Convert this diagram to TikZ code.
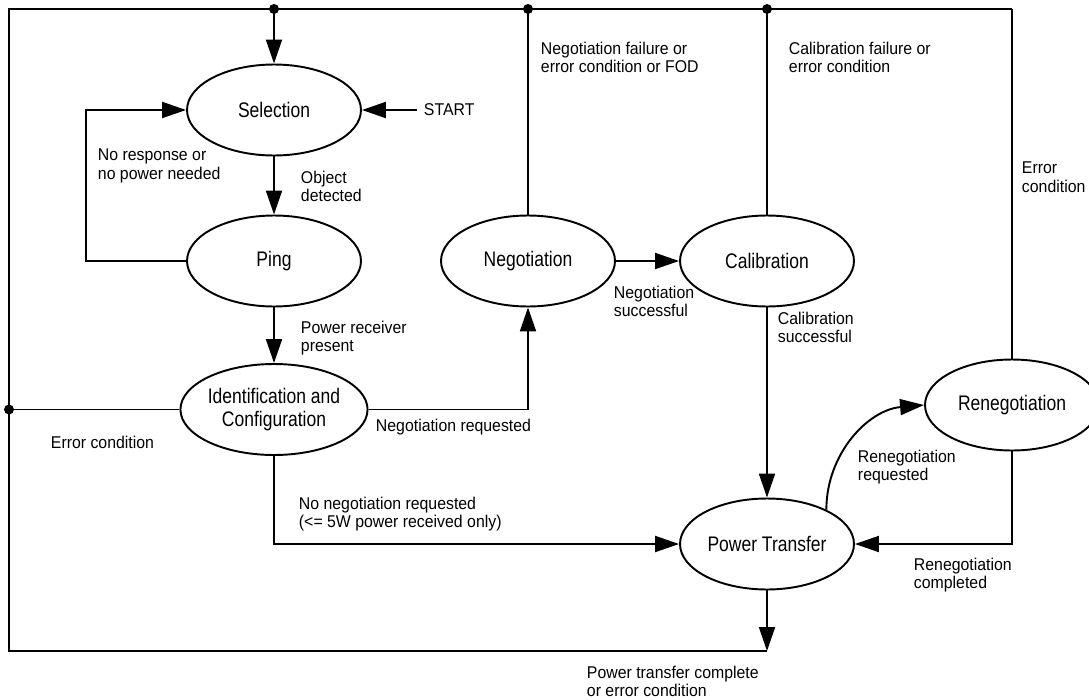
\documentclass[tikz,border=0pt]{standalone}
\usepackage{fontspec}
\setmainfont{Liberation Sans}
\newfontfamily\stfont[FakeStretch=0.83]{Liberation Sans}
\newfontfamily\lbfont[FakeStretch=0.93]{Liberation Sans}
\usetikzlibrary{arrows.meta,shapes.geometric}
\begin{document}
\begin{tikzpicture}[x=0.02cm,y=-0.02cm,
  line width=1.1pt,
  state/.style={draw, ellipse, minimum width=3.48cm, minimum height=1.82cm, inner sep=0pt,
    align=center, font=\stfont\fontsize{12}{13.5}\selectfont},
  lbl/.style={anchor=north west, inner sep=0pt, align=left,
    font=\lbfont\fontsize{9.7}{10.5}\selectfont},
  arr/.style={-{Triangle[length=0.48cm,width=0.32cm]}},
  dot/.style={fill=black}]
\useasboundingbox (0,0) rectangle (1089,700);

% states
\node[state] (sel) at (274,110) {Selection};
\node[state] (ping) at (274,261) {Ping};
\node[state] (id) at (274,409.5) {Identification and\\Configuration};
\node[state] (neg) at (528,261) {Negotiation};
\node[state] (cal) at (767,261) {Calibration};
\node[state] (pt) at (767,544) {Power Transfer};
\node[state] (ren) at (1012,405) {Renegotiation};

% start
\node[anchor=west, inner xsep=0.12cm, inner ysep=0pt, font=\lbfont\fontsize{9.7}{10.5}\selectfont] (start) at (417,110) {START};

% junction coordinates
\coordinate (tl) at (9,9);
\coordinate (d1) at (274,9);
\coordinate (d2) at (528,9);
\coordinate (d3) at (767,9);
\coordinate (tr) at (1012,9);
\coordinate (dl) at (9,409.5);
\coordinate (bl) at (9,651);
\coordinate (bm) at (767,651);
\coordinate (lp) at (86,261);

% outer frame
\draw (tr) -- (tl) -- (bl) -- (bm);

% connectors
\draw[arr] (d1) -- (sel.north);
\draw[arr] (start.west) -- (sel.east);
\draw[arr] (sel.south) -- (ping.north);
\draw[arr] (ping.west) -- (lp) |- (sel.west);
\draw[arr] (ping.south) -- (id.north);
\draw (id.west) -- (dl);
\draw[arr] (id.east) -| (neg.south);
\draw[arr] (id.south) |- (pt.west);
\draw (neg.north) -- (d2);
\draw[arr] (neg.east) -- (cal.west);
\draw (cal.north) -- (d3);
\draw[arr] (cal.south) -- (pt.north);
\draw[arr] (pt.30) to[out=90,in=185] (ren.west);
\draw[arr] (ren.south) |- (pt.east);
\draw (ren.north) -- (tr);
\draw[arr] (pt.south) -- (bm);

% dots
\fill[dot] (d1) circle[radius=0.1cm];
\fill[dot] (d2) circle[radius=0.1cm];
\fill[dot] (d3) circle[radius=0.1cm];
\fill[dot] (dl) circle[radius=0.1cm];

% labels
\node[lbl] (l1) at (540,41) {Negotiation failure or\\error condition or FOD};
\node[lbl] (l2) at (788,41) {Calibration failure or\\error condition};
\node[lbl] (l3) at (1021,161) {Error\\condition};
\node[lbl] (l4) at (97,148) {No response or\\no power needed};
\node[lbl] (l5) at (300,170) {Object\\detected};
\node[lbl] (l6) at (300,320) {Power receiver\\present};
\node[lbl] (l7) at (613,285) {Negotiation\\successful};
\node[lbl] (l8) at (777,311) {Calibration\\successful};
\node[lbl] (l9) at (50,435) {Error condition};
\node[lbl] (l10) at (375,418) {Negotiation requested};
\node[lbl] (l11) at (857,449) {Renegotiation\\requested};
\node[lbl] (l12) at (913,557) {Renegotiation\\completed};
\node[lbl] (l13) at (298,496) {No negotiation requested\\(<= 5W power received only)};
\node[lbl] (l14) at (586,665) {Power transfer complete\\or error condition};
\end{tikzpicture}
\end{document}
